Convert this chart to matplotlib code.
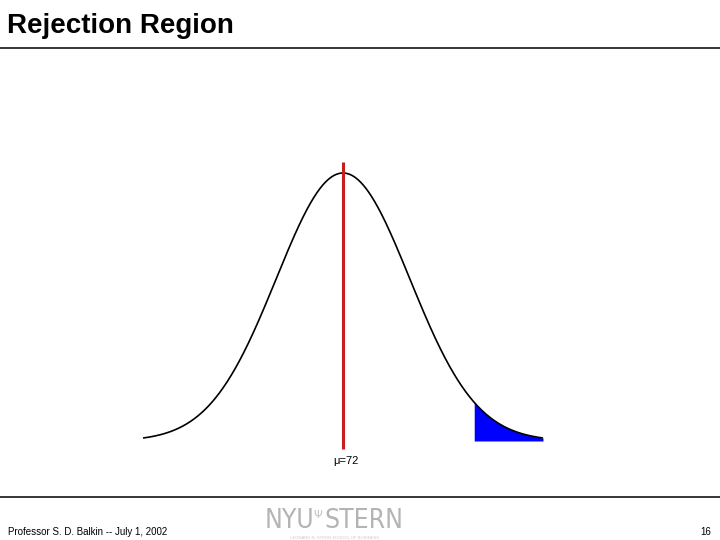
import numpy as np
import matplotlib
matplotlib.use("Agg")
import matplotlib.pyplot as plt

# ---- data ----
mu = 72.0
sigma = 1.0
z_range = 3.0          # curve drawn from mu-3σ to mu+3σ
z_crit = 1.96          # start of rejection region
title = "Rejection Region"
mean_label = "\u03bc=72"
footer_left = "Professor S. D. Balkin -- July 1, 2002"
page_no = "16"

W, H = 720, 540
fig = plt.figure(figsize=(W / 100, H / 100), dpi=100)
fig.patch.set_facecolor("white")

def fx(px):
    return px / W

def fy(py):
    return 1 - py / H

# axes: x spans 143..543 px, y baseline at 441 px, peak at 173 px
x = np.linspace(mu - z_range * sigma, mu + z_range * sigma, 600)
pdf = np.exp(-0.5 * ((x - mu) / sigma) ** 2) / (sigma * np.sqrt(2 * np.pi))
peak = pdf.max()

ax = fig.add_axes([fx(143), fy(441), fx(543) - fx(143), fy(173) - fy(441)])
ax.set_xlim(x[0], x[-1])
ax.set_ylim(0, peak)
ax.axis("off")

ax.plot(x, pdf, color="black", lw=1.2, clip_on=False, solid_capstyle="butt")
mask = x >= mu + z_crit * sigma
ax.fill_between(x[mask], 0, pdf[mask], color="#0000ff", lw=0, clip_on=False)
ax.plot([mu, mu], [-0.03 * peak, 1.04 * peak], color="#c81e1e", lw=2.2,
        clip_on=False, solid_capstyle="butt")
ax.text(mu + 0.045 * sigma, -0.075 * peak, mean_label, ha="center", va="center",
        fontsize=8, family=["Liberation Sans", "DejaVu Sans"], clip_on=False)

# slide decorations
fig.text(fx(7), fy(33), title, fontsize=20, fontweight="bold",
         family="Liberation Sans", ha="left", va="baseline")
fig.add_artist(plt.Line2D([0, 1], [fy(48), fy(48)], color="black", lw=1.1,
                          transform=fig.transFigure))
fig.add_artist(plt.Line2D([0, 1], [fy(497), fy(497)], color="black", lw=1.1,
                          transform=fig.transFigure))
fig.text(fx(8), fy(535), footer_left, fontsize=7, family="Liberation Sans",
         ha="left", va="baseline")
fig.text(fx(711), fy(535), page_no, fontsize=7, family="Liberation Sans",
         ha="right", va="baseline")

# logo (text)
fig.text(fx(265), fy(528), "NYU", fontsize=19, color="#b4b4b4",
         family="DejaVu Sans", fontstretch="condensed", fontweight="light",
         ha="left", va="baseline")
fig.text(fx(318), fy(518), "\u03a8", fontsize=8, color="#c4c4c4",
         family="DejaVu Sans", ha="center", va="baseline")
fig.text(fx(324), fy(528), "STERN", fontsize=19, color="#b4b4b4",
         family="DejaVu Sans", fontstretch="condensed", fontweight="light",
         ha="left", va="baseline")
fig.text(fx(335), fy(539), "LEONARD N. STERN SCHOOL OF BUSINESS", fontsize=3,
         color="#c8c8c8", family="Liberation Sans", ha="center", va="baseline")

fig.savefig("out.png", dpi=100, facecolor="white")
